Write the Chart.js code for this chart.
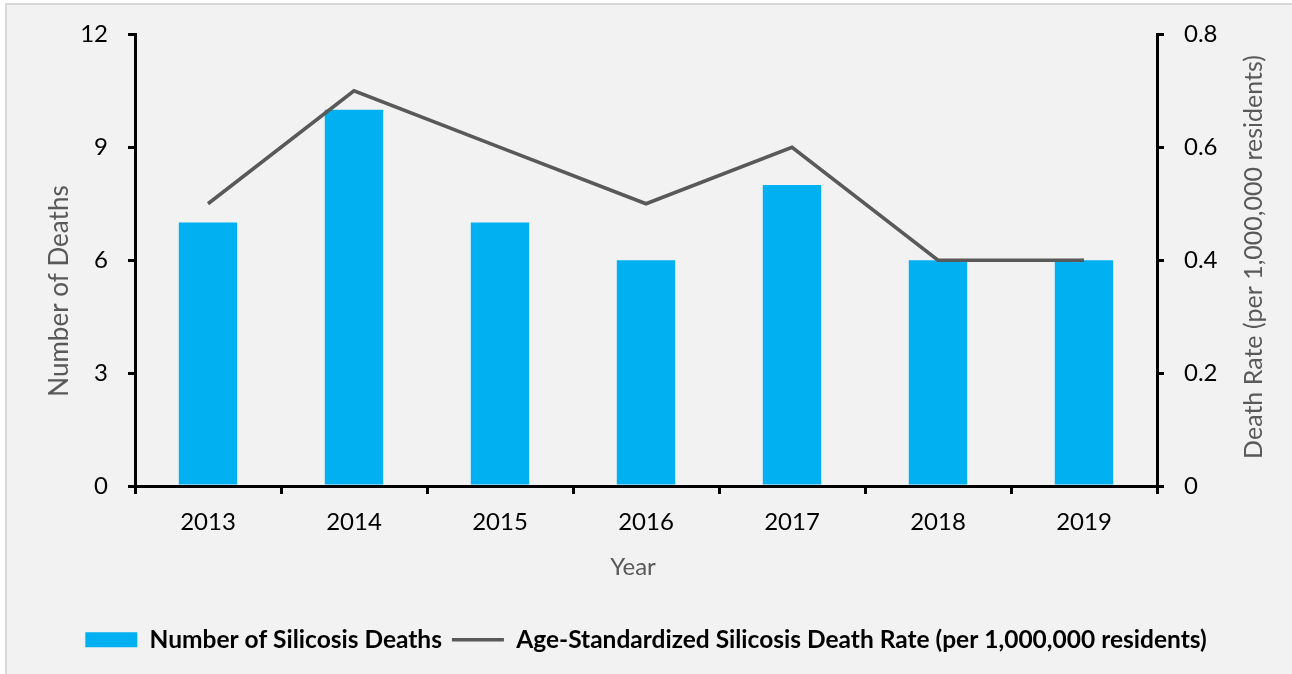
<!DOCTYPE html>
<html>
<head>
<meta charset="utf-8">
<script src="https://cdn.jsdelivr.net/npm/chart.js@4"></script>
<style>
    body { margin: 0; background: #ffffff; }
    #wrap { width: 1292px; height: 674px; }
</style>
</head>
<body>
<div id="wrap"><canvas id="myChart"></canvas></div>
<script>
// data
const years = ["2013", "2014", "2015", "2016", "2017", "2018", "2019"];
const deaths = [7, 10, 7, 6, 8, 6, 6];
const deathRate = [0.5, 0.7, 0.6, 0.5, 0.6, 0.4, 0.4];

const deathsLabel = "Number of Silicosis Deaths";
const rateLabel = "Age-Standardized Silicosis Death Rate (per 1,000,000 residents)";
const titleLeft = "Number of Deaths";
const titleRight = "Death Rate (per 1,000,000 residents)";
const titleX = "Year";

const FONT = "Lato";
const PLOT_BOTTOM = 486;

// background and grey frame like the original
const frame = {
    id: 'frame',
    beforeDraw(chart) {
        const ctx = chart.ctx;
        ctx.save();
        ctx.fillStyle = '#ffffff';
        ctx.fillRect(0, 0, chart.width, chart.height);
        ctx.fillStyle = '#f2f2f2';
        ctx.fillRect(5, 3, chart.width - 5, chart.height - 3);
        ctx.strokeStyle = '#d9d9d9';
        ctx.lineWidth = 2;
        ctx.beginPath();
        ctx.moveTo(6, chart.height);
        ctx.lineTo(6, 4);
        ctx.lineTo(chart.width, 4);
        ctx.stroke();
        ctx.restore();
    }
};

// axis titles (both vertical ones read bottom to top)
const axisTitles = {
    id: 'axisTitles',
    afterDraw(chart) {
        const ctx = chart.ctx;
        ctx.save();
        ctx.fillStyle = '#595959';
        ctx.font = '24px ' + FONT;
        ctx.textAlign = 'center';
        ctx.textBaseline = 'middle';
        ctx.fillText(titleX, 633, 567);

        ctx.font = '26px ' + FONT;
        ctx.translate(60, 291);
        ctx.rotate(-Math.PI / 2);
        ctx.fillText(titleLeft, 0, 0);
        ctx.restore();

        ctx.save();
        ctx.fillStyle = '#595959';
        ctx.font = '25px ' + FONT;
        ctx.textAlign = 'center';
        ctx.textBaseline = 'middle';
        ctx.translate(1254, 257);
        ctx.rotate(-Math.PI / 2);
        ctx.fillText(titleRight, 0, 0);
        ctx.restore();
    }
};

const CHART = document.getElementById("myChart");
let wykres = new Chart(CHART, {
    type: 'bar',
    data: {
        labels: years,
        datasets: [
            {
                type: 'line',
                label: rateLabel,
                data: deathRate,
                yAxisID: 'y1',
                borderColor: '#595959',
                backgroundColor: '#595959',
                borderWidth: 3.5,
                pointRadius: 0,
                tension: 0,
                pointStyle: 'line',
                order: 0
            },
            {
                label: deathsLabel,
                data: deaths,
                yAxisID: 'y',
                backgroundColor: '#00b0f0',
                borderWidth: 0,
                categoryPercentage: 0.8,
                barPercentage: 0.5,
                pointStyle: 'rect',
                order: 1
            }
        ]
    },
    options: {
        responsive: true,
        maintainAspectRatio: false,
        animation: false,
        layout: {
            padding: { top: 33, left: 0, right: 0, bottom: 12 }
        },
        plugins: {
            legend: {
                position: 'bottom',
                reverse: true,
                labels: {
                    usePointStyle: true,
                    pointStyleWidth: 52,
                    boxHeight: 15,
                    padding: 10,
                    color: '#000000',
                    font: { family: FONT, size: 24.5, weight: 'bold' }
                }
            },
            tooltip: { enabled: false }
        },
        scales: {
            x: {
                offset: true,
                grid: {
                    display: true,
                    drawOnChartArea: false,
                    color: '#000000',
                    lineWidth: 3,
                    tickLength: 8
                },
                border: { display: true, color: '#000000', width: 3 },
                ticks: {
                    color: '#000000',
                    padding: 14,
                    font: { family: FONT, size: 24 }
                },
                afterFit: function (s) {
                    s.height = s.chart.height - PLOT_BOTTOM - s.chart.legend.height - 12;
                }
            },
            y: {
                position: 'left',
                min: 0,
                max: 12,
                grid: {
                    drawOnChartArea: false,
                    color: '#000000',
                    lineWidth: 3,
                    tickLength: 7
                },
                border: { display: true, color: '#000000', width: 3 },
                ticks: {
                    stepSize: 3,
                    color: '#000000',
                    padding: 20,
                    font: { family: FONT, size: 24 }
                },
                afterFit: function (s) {
                    s.width = 135;
                }
            },
            y1: {
                position: 'right',
                min: 0,
                max: 0.8,
                grid: {
                    drawOnChartArea: false,
                    color: '#000000',
                    lineWidth: 3,
                    tickLength: 7
                },
                border: { display: true, color: '#000000', width: 3 },
                ticks: {
                    stepSize: 0.2,
                    color: '#000000',
                    padding: 20,
                    font: { family: FONT, size: 24 }
                },
                afterFit: function (s) {
                    s.width = 135;
                }
            }
        }
    },
    plugins: [frame, axisTitles]
});
</script>
</body>
</html>
